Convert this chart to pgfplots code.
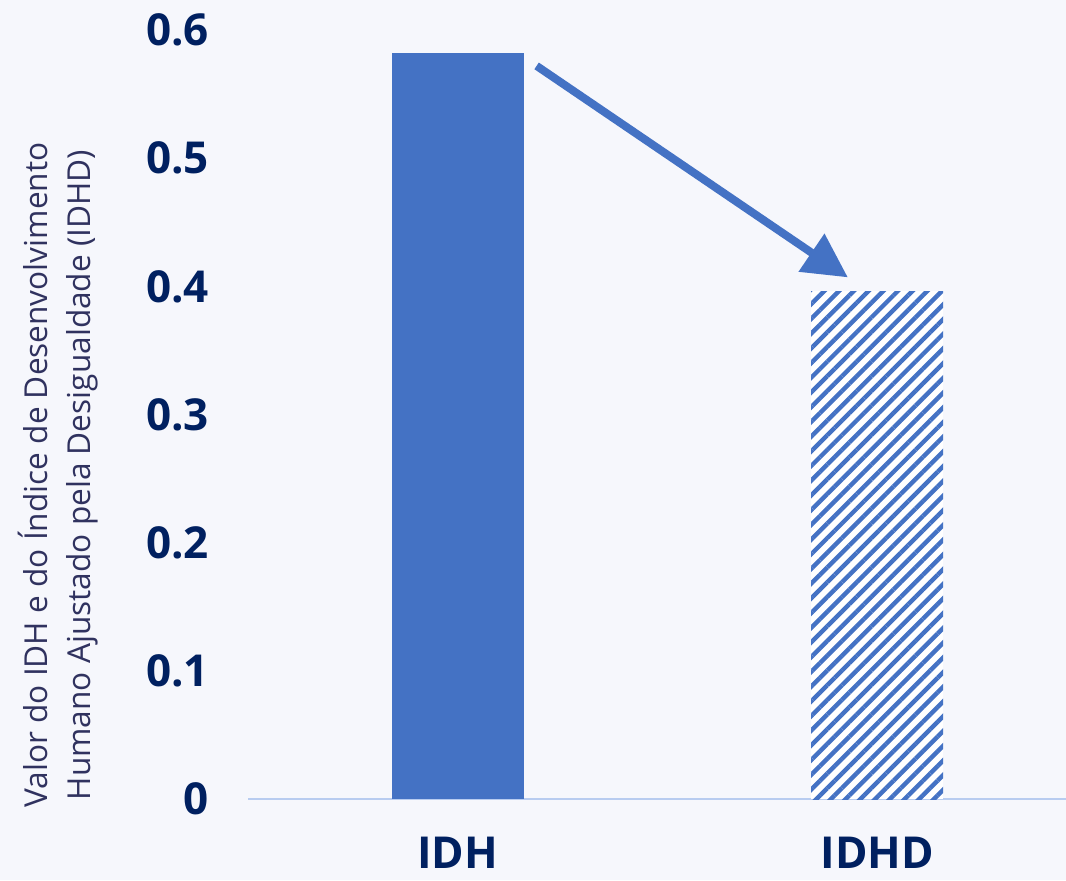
\documentclass[border=0pt]{standalone}
\usepackage{pgfplots}
\pgfplotsset{compat=1.18}
\usepackage{fontspec}
\setmainfont{Open Sans}
\usetikzlibrary{patterns.meta,arrows.meta,backgrounds}
\definecolor{bg}{HTML}{F6F7FC}
\definecolor{barblue}{HTML}{4472C4}
\definecolor{navy}{HTML}{002060}
\definecolor{labcol}{HTML}{30325F}
\definecolor{axiscol}{HTML}{B8CCF0}
\begin{document}
\begin{tikzpicture}
\useasboundingbox (0,0) rectangle (533pt,440pt);
\begin{axis}[
  at={(124pt,40.5pt)}, anchor=south west,
  scale only axis, width=409pt, height=384.5pt,
  xmin=-0.5, xmax=1.45, ymin=0, ymax=0.6,
  axis y line*=left, axis x line*=bottom,
  y axis line style={draw=none},
  x axis line style={draw=axiscol, line width=0.8pt, -},
  ybar, bar width=66pt,
  xtick={0,1}, xticklabels={IDH,IDHD},
  ytick={0,0.1,0.2,0.3,0.4,0.5,0.6},
  major tick length=0pt,
  /pgf/number format/assume math mode=true,
  /pgf/number format/fixed,
  tick label style={font=\fontsize{22}{26}\selectfont\bfseries, text=navy},
  xticklabel style={anchor=base, inner sep=0pt, yshift=-34.5pt},
  yticklabel style={anchor=east, xshift=-16pt},
  clip=false,
]
\addplot[draw=none, fill=barblue, bar shift=0pt] coordinates {(0,0.582)};
\addplot[draw=none, fill=white, bar shift=0pt,
  postaction={pattern={Lines[angle=45,distance=5.2pt,line width=2.2pt]}, pattern color=barblue}]
  coordinates {(1,0.396)};
\draw[barblue, line width=4pt, -{Triangle[length=22pt,width=22pt]}] (axis cs:0.188,0.572) -- (axis cs:0.930,0.407);
\end{axis}
\node[rotate=90, align=center, text=labcol, font=\fontsize{15.8}{21.5}\selectfont] at (29pt,202.5pt)
  {Valor do IDH e do Índice de Desenvolvimento\\Humano Ajustado pela Desigualdade (IDHD)};
\begin{scope}[on background layer]
\fill[bg] (0,0) rectangle (533pt,440pt);
\end{scope}
\end{tikzpicture}
\end{document}
